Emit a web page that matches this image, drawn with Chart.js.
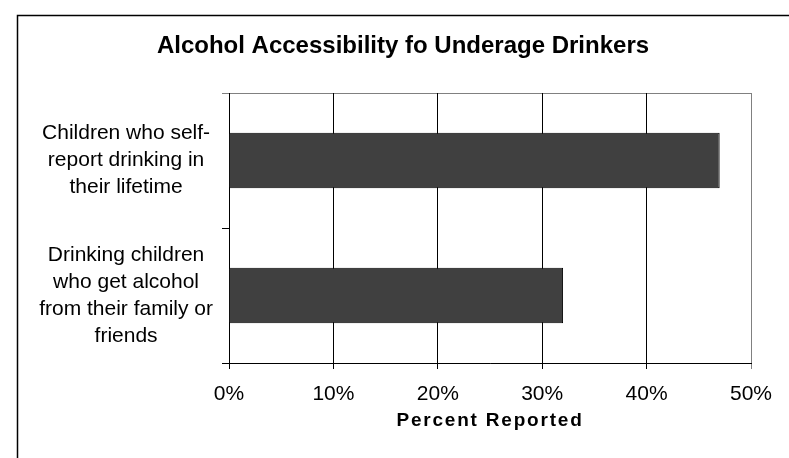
<!DOCTYPE html>
<html>
<head>
<meta charset="utf-8">
<script src="https://cdn.jsdelivr.net/npm/chart.js@4/dist/chart.umd.min.js"></script>
<style>
  html, body { margin: 0; padding: 0; background: #fff; }
  #c { display: block; }
</style>
</head>
<body>
<canvas id="c" width="789" height="458"></canvas>
<script>
// ---- data ----
const chartTitle = "Alcohol Accessibility fo Underage Drinkers";
const axisTitle = "Percent Reported";
const categories = [
  ["Children who self-", "report drinking in", "their lifetime"],
  ["Drinking children", "who get alcohol", "from their family or", "friends"]
];
const values = [47, 32];
const xTickValues = [0, 10, 20, 30, 40, 50];
const xTickLabels = ["0%", "10%", "20%", "30%", "40%", "50%"];

const FONT = "'Liberation Sans', Arial, Helvetica, sans-serif";

const framePlugin = {
  id: 'frame',
  beforeDraw(chart) {
    const ctx = chart.ctx;
    ctx.save();
    ctx.fillStyle = '#fff';
    ctx.fillRect(0, 0, chart.width, chart.height);
    // outer frame
    ctx.strokeStyle = '#000';
    ctx.lineWidth = 1.5;
    ctx.beginPath();
    ctx.moveTo(17.5, chart.height);
    ctx.lineTo(17.5, 15.5);
    ctx.lineTo(chart.width, 15.5);
    ctx.stroke();
    // plot area border (grey)
    const a = chart.chartArea;
    ctx.strokeStyle = '#808080';
    ctx.lineWidth = 1;
    ctx.strokeRect(Math.round(a.left) + 0.5, Math.round(a.top) + 0.5,
                   Math.round(a.right - a.left), Math.round(a.bottom - a.top));
    ctx.restore();

    // letter spacing for the axis title
    const xs = chart.scales.x;
    if (xs && !xs._lsPatched) {
      const origT = xs.drawTitle;
      xs.drawTitle = function(...args) {
        const c = chart.ctx; const prev = c.letterSpacing;
        c.letterSpacing = '1.8px';
        origT.apply(this, args);
        c.letterSpacing = prev || '0px';
      };
      xs._lsPatched = true;
    }
  }
};

Chart.defaults.color = '#000';
Chart.defaults.font.family = FONT;

new Chart(document.getElementById('c'), {
  type: 'bar',
  data: {
    labels: categories,
    datasets: [{
      data: values,
      backgroundColor: '#404040',
      borderColor: '#000',
      borderWidth: 1,
      barPercentage: 0.41,
      categoryPercentage: 1.0
    }]
  },
  options: {
    indexAxis: 'y',
    responsive: false,
    animation: false,
    devicePixelRatio: 1,
    layout: { padding: { left: 17, right: 0, top: 0, bottom: 0 } },
    plugins: {
      legend: { display: false },
      tooltip: { enabled: false },
      title: {
        display: true,
        text: chartTitle,
        color: '#000',
        font: { family: FONT, size: 24, weight: 'bold', lineHeight: 1.2 },
        padding: { top: 32.2, bottom: 32 }
      }
    },
    scales: {
      x: {
        type: 'linear',
        min: 0,
        max: 50,
        afterBuildTicks(scale) {
          scale.ticks = xTickValues.map(v => ({ value: v }));
        },
        afterFit(scale) { scale.height = 95; scale.paddingRight = 38; },
        ticks: {
          padding: 13,
          color: '#000',
          font: { family: FONT, size: 21, lineHeight: 1.2 },
          callback: (v, i) => xTickLabels[i]
        },
        grid: {
          color: c => (c.tick && c.tick.value === 50) ? '#808080' : '#000',
          lineWidth: 1,
          drawTicks: true,
          tickLength: 6
        },
        border: { display: true, color: '#000', width: 1 },
        title: {
          display: true,
          text: axisTitle,
          color: '#000',
          font: { family: FONT, size: 19, weight: 'bold', lineHeight: 1.2 },
          padding: { top: 0, bottom: 26 }
        }
      },
      y: {
        type: 'category',
        offset: true,
        afterFit(scale) { scale.width = 212; },
        ticks: {
          crossAlign: 'center',
          padding: 9,
          color: '#000',
          font: { family: FONT, size: 21, lineHeight: 1.29 }
        },
        grid: {
          offset: true,
          drawOnChartArea: false,
          drawTicks: true,
          tickLength: 7,
          color: c => c.index === 0 ? '#808080' : '#000',
          lineWidth: 1
        },
        border: { display: true, color: '#000', width: 1 }
      }
    }
  },
  plugins: [framePlugin]
});
</script>
</body>
</html>
